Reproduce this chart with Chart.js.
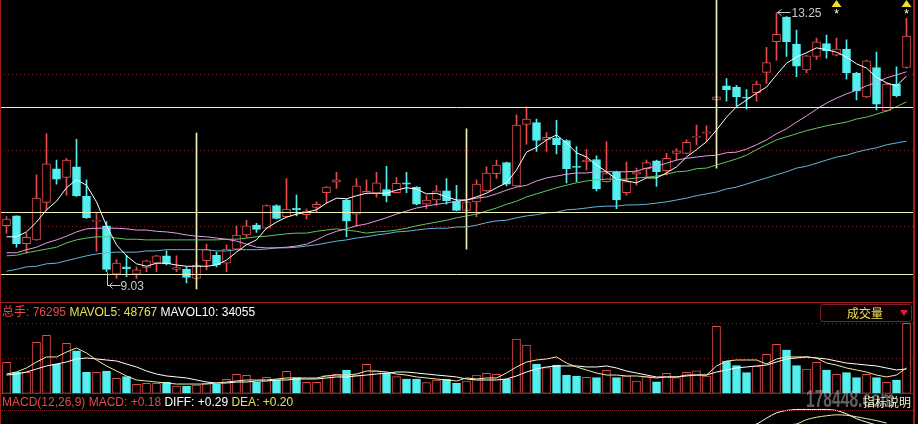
<!DOCTYPE html>
<html>
<head>
<meta charset="utf-8">
<script src="https://cdn.jsdelivr.net/npm/chart.js@4.4.1/dist/chart.umd.min.js"></script>
<style>
  html, body { margin: 0; padding: 0; background: #000; }
  body { width: 918px; height: 424px; position: relative; overflow: hidden;
         font-family: "Liberation Sans", Arial, "Noto Sans CJK SC", sans-serif; font-size: 12px; }
  canvas { position: absolute; left: 0; }
  .txt { position: absolute; white-space: pre; line-height: 14px; }
  .rule { position: absolute; background: #9c1c1c; }
  .dots { position: absolute; height: 0; border-top: 1px dotted #7a2424; }
  #volBtn { position: absolute; left: 820px; top: 304px; width: 90px; height: 16px;
            border: 1px solid #7c1c30; border-radius: 3px; background: #080000; }
  #volBtn span { position: absolute; left: 26px; top: 1px; color: #f0e050; line-height: 14px; font-family: "Noto Sans CJK SC", sans-serif; }
  #volBtn i { position: absolute; left: 79px; top: 5px; width: 0; height: 0;
              border-left: 4px solid transparent; border-right: 4px solid transparent; border-top: 6px solid #e0203c; }
  #mark { position: absolute; left: 806px; top: 387px; font: bold 24px "Liberation Sans", Arial, sans-serif;
          color: rgba(190,190,190,0.5); transform: scaleX(0.65); transform-origin: 0 0; line-height: 24px; }
  #note { position: absolute; left: 863px; top: 395px; color: #f0f0c8; font-family: "Noto Sans CJK SC", sans-serif; line-height: 14px; }
</style>
</head>
<body>
<canvas id="price" width="918" height="300" style="top:0"></canvas>
<canvas id="vol" width="918" height="92" style="top:302px"></canvas>
<canvas id="macd" width="918" height="30" style="top:394px"></canvas>

<div class="rule" style="left:0;top:0;width:1px;height:424px"></div>
<div class="rule" style="left:913px;top:0;width:2px;height:424px"></div>
<div class="rule" style="left:0;top:302px;width:915px;height:1px"></div>
<div class="rule" style="left:0;top:393px;width:915px;height:1px"></div>
<div class="dots" style="left:0;top:410px;width:913px"></div>

<div class="txt" style="left:2px;top:305px"><span style="color:#e64a4a">总手: 76295</span> <span style="color:#e6e050">MAVOL5: 48767</span> <span style="color:#ffffff">MAVOL10: 34055</span></div>
<div class="txt" style="left:2px;top:395px"><span style="color:#e64a4a">MACD(12,26,9) MACD: +0.18</span> <span style="color:#ffffff">DIFF: +0.29</span> <span style="color:#e6e050">DEA: +0.20</span></div>
<div id="volBtn"><span>成交量</span><i></i></div>
<div id="mark">178448.com</div>
<div id="note">指标说明</div>

<script>
// daily candles, oldest first
const opens = [9.78, 9.94, 9.49, 9.55, 10.16, 10.71, 10.57, 10.74, 10.26, 9.85,
  9.78, 8.99, 9.11, 8.99, 9.10, 9.17, 9.29, 9.07, 9.07, 8.92,
  9.21, 9.30, 9.17, 9.40, 9.63, 9.79, 9.74, 10.11, 9.93, 10.07,
  9.96, 10.08, 10.32, 10.49, 10.20, 9.97, 10.31, 10.31, 10.37, 10.32,
  10.48, 10.41, 10.13, 10.20, 10.35, 10.18, 10.03, 10.17, 10.35, 10.63,
  10.81, 10.43, 11.43, 11.46, 11.18, 11.21, 11.17, 10.75, 10.82, 10.86,
  10.50, 10.66, 10.32, 10.62, 10.71, 10.84, 10.68, 10.96, 10.96, 11.22,
  11.29, 11.83, 12.06, 12.04, 11.87, 11.95, 12.28, 12.78, 13.18, 12.74,
  12.32, 12.54, 12.75, 12.56, 12.66, 12.27, 11.88, 12.36, 11.65, 12.09,
  12.36];
const highs = [9.93, 9.94, 9.66, 10.61, 11.28, 10.85, 10.88, 11.19, 10.53, 9.98,
  9.85, 9.23, 9.30, 9.11, 9.22, 9.30, 9.37, 9.29, 9.11, 9.17,
  9.48, 9.35, 9.47, 9.78, 9.87, 9.82, 10.12, 10.12, 10.55, 10.28,
  10.05, 10.17, 10.42, 10.65, 10.21, 10.55, 10.53, 10.65, 10.75, 10.57,
  10.65, 10.42, 10.27, 10.44, 10.55, 10.44, 10.18, 10.53, 10.74, 10.85,
  10.82, 11.59, 11.72, 11.52, 11.30, 11.50, 11.18, 11.07, 11.02, 10.92,
  11.15, 10.67, 10.82, 10.72, 10.85, 10.85, 10.96, 11.04, 11.18, 11.42,
  11.41, 11.89, 12.18, 12.07, 12.00, 12.14, 12.69, 13.25, 13.19, 12.97,
  12.56, 12.84, 12.89, 12.84, 12.81, 12.28, 12.48, 12.61, 12.10, 12.37,
  13.16];
const lows = [9.66, 9.43, 9.33, 9.54, 10.04, 10.46, 10.28, 10.26, 9.90, 9.36,
  9.03, 8.92, 8.95, 8.92, 9.03, 9.03, 9.14, 9.03, 8.85, 8.91,
  9.06, 9.11, 9.03, 9.39, 9.59, 9.67, 9.73, 9.89, 9.92, 9.94,
  9.89, 10.01, 10.15, 10.39, 9.60, 9.77, 10.30, 10.25, 10.17, 10.31,
  10.32, 10.12, 10.06, 10.11, 10.13, 10.02, 10.02, 9.93, 10.34, 10.55,
  10.43, 10.42, 11.11, 10.99, 10.99, 10.95, 10.48, 10.50, 10.69, 10.35,
  10.49, 10.06, 10.28, 10.44, 10.58, 10.42, 10.61, 10.85, 10.95, 11.10,
  11.15, 11.82, 11.81, 11.73, 11.68, 11.81, 12.10, 12.48, 12.54, 12.21,
  12.27, 12.49, 12.51, 12.55, 12.17, 11.83, 11.87, 11.67, 11.64, 11.88,
  12.35];
const closes = [9.89, 9.49, 9.59, 10.23, 10.79, 10.54, 10.85, 10.27, 9.91, 9.87,
  9.07, 9.17, 9.08, 9.06, 9.21, 9.29, 9.16, 9.10, 8.94, 9.14,
  9.39, 9.14, 9.40, 9.63, 9.78, 9.72, 10.11, 9.90, 10.05, 10.04,
  10.02, 10.13, 10.41, 10.53, 9.86, 10.43, 10.34, 10.48, 10.27, 10.47,
  10.46, 10.13, 10.20, 10.35, 10.19, 10.03, 10.17, 10.46, 10.64, 10.77,
  10.46, 11.42, 11.52, 11.17, 11.22, 11.10, 10.71, 10.73, 10.85, 10.38,
  10.63, 10.20, 10.50, 10.66, 10.81, 10.66, 10.88, 11.00, 11.14, 11.24,
  11.31, 11.88, 12.00, 11.88, 11.86, 12.09, 12.44, 12.90, 12.78, 12.38,
  12.55, 12.78, 12.63, 12.66, 12.27, 11.98, 12.47, 11.76, 12.09, 11.90,
  12.87];

const ma5 = [9.60, 9.60, 9.68, 9.84, 10.04, 10.18, 10.40, 10.53, 10.44, 10.17,
  9.78, 9.47, 9.29, 9.16, 9.12, 9.17, 9.17, 9.14, 9.12, 9.12,
  9.12, 9.14, 9.22, 9.35, 9.47, 9.55, 9.74, 9.84, 9.92, 9.97,
  10.00, 10.04, 10.15, 10.23, 10.22, 10.27, 10.31, 10.31, 10.31, 10.36,
  10.40, 10.38, 10.30, 10.31, 10.25, 10.20, 10.20, 10.25, 10.31, 10.40,
  10.48, 10.69, 10.98, 11.06, 11.18, 11.26, 11.13, 10.97, 10.90, 10.77,
  10.66, 10.54, 10.51, 10.48, 10.56, 10.56, 10.64, 10.74, 10.90, 11.02,
  11.15, 11.34, 11.55, 11.72, 11.83, 11.94, 12.04, 12.24, 12.43, 12.53,
  12.60, 12.68, 12.65, 12.61, 12.53, 12.42, 12.35, 12.20, 12.11, 12.06,
  12.22];
const ma10 = [9.34, 9.34, 9.39, 9.43, 9.50, 9.55, 9.61, 9.68, 9.73, 9.74,
  9.74, 9.74, 9.73, 9.71, 9.71, 9.69, 9.68, 9.66, 9.63, 9.61,
  9.60, 9.58, 9.56, 9.53, 9.48, 9.43, 9.42, 9.42, 9.43, 9.45,
  9.48, 9.55, 9.63, 9.69, 9.73, 9.78, 9.81, 9.86, 9.91, 9.97,
  10.02, 10.07, 10.10, 10.13, 10.15, 10.18, 10.20, 10.23, 10.25, 10.30,
  10.36, 10.41, 10.44, 10.51, 10.56, 10.59, 10.62, 10.64, 10.64, 10.66,
  10.66, 10.66, 10.66, 10.67, 10.72, 10.75, 10.80, 10.85, 10.88, 10.90,
  10.92, 10.93, 10.97, 10.98, 11.03, 11.10, 11.18, 11.28, 11.36, 11.47,
  11.57, 11.68, 11.78, 11.86, 11.93, 11.99, 12.06, 12.12, 12.19, 12.24,
  12.29];
const ma20 = [9.29, 9.30, 9.34, 9.37, 9.40, 9.43, 9.50, 9.55, 9.58, 9.60,
  9.60, 9.58, 9.56, 9.56, 9.55, 9.55, 9.55, 9.55, 9.55, 9.55,
  9.55, 9.55, 9.56, 9.56, 9.58, 9.60, 9.61, 9.63, 9.65, 9.66,
  9.66, 9.69, 9.71, 9.73, 9.71, 9.69, 9.66, 9.68, 9.69, 9.71,
  9.74, 9.78, 9.81, 9.84, 9.87, 9.91, 9.94, 9.97, 10.02, 10.07,
  10.13, 10.18, 10.25, 10.30, 10.35, 10.40, 10.44, 10.48, 10.51, 10.53,
  10.54, 10.54, 10.54, 10.56, 10.57, 10.59, 10.62, 10.66, 10.67, 10.71,
  10.72, 10.77, 10.82, 10.87, 10.93, 11.02, 11.10, 11.18, 11.23, 11.28,
  11.33, 11.37, 11.41, 11.44, 11.47, 11.52, 11.55, 11.60, 11.65, 11.72,
  11.80];
const ma60 = [9.04, 9.07, 9.11, 9.12, 9.16, 9.17, 9.21, 9.25, 9.29, 9.32,
  9.34, 9.35, 9.35, 9.35, 9.37, 9.37, 9.39, 9.39, 9.39, 9.39,
  9.39, 9.37, 9.37, 9.39, 9.39, 9.39, 9.40, 9.42, 9.42, 9.43,
  9.45, 9.47, 9.50, 9.53, 9.55, 9.58, 9.60, 9.63, 9.65, 9.68,
  9.69, 9.71, 9.73, 9.74, 9.74, 9.76, 9.76, 9.79, 9.83, 9.86,
  9.87, 9.91, 9.94, 9.96, 9.99, 10.00, 10.04, 10.05, 10.07, 10.09,
  10.10, 10.10, 10.12, 10.12, 10.13, 10.15, 10.17, 10.20, 10.23, 10.27,
  10.30, 10.33, 10.38, 10.41, 10.46, 10.51, 10.56, 10.61, 10.66, 10.72,
  10.75, 10.80, 10.85, 10.90, 10.93, 10.98, 11.02, 11.05, 11.10, 11.13,
  11.16];

const volumes = [33800, 22900, 22900, 55600, 63200, 31900, 54500, 46400, 22900, 22900,
  24300, 16400, 18100, 9800, 10900, 10900, 12000, 8000, 8000, 9000,
  10900, 10100, 15300, 20700, 19600, 12000, 17400, 14500, 24000, 17000,
  12000, 12000, 19200, 20700, 25400, 19900, 31600, 24300, 22100, 18100,
  15600, 15600, 11600, 14500, 15300, 10900, 13400, 19900, 21800, 20700,
  15600, 59200, 52600, 31900, 27900, 30800, 19900, 18900, 17400, 17000,
  25100, 17000, 18900, 13400, 18100, 12600, 21800, 17000, 22900, 24600,
  18900, 73000, 35200, 30100, 22500, 29800, 42500, 53400, 47200, 30100,
  26500, 33800, 25400, 20700, 22500, 17000, 20700, 17000, 12000, 14500,
  76295];
const mavol5 = [21000, 23200, 27600, 34100, 39600, 39600, 45000, 49400, 43900, 36300,
  29800, 24300, 18900, 14500, 13400, 12300, 11200, 10100, 10100, 10100,
  10100, 11200, 12300, 13400, 14500, 14500, 14500, 15600, 16700, 16700,
  16700, 16700, 18900, 19900, 19900, 21000, 24300, 24300, 23200, 21000,
  19900, 17800, 16700, 15600, 14500, 13400, 16700, 15600, 16700, 16700,
  22100, 28700, 34100, 36300, 37400, 39600, 33000, 28700, 25400, 22100,
  19900, 19900, 18900, 18900, 17800, 16700, 17800, 17800, 19900, 19900,
  19900, 29800, 35200, 36300, 36300, 36300, 31900, 37400, 39600, 39600,
  39600, 38500, 33000, 30800, 27600, 25400, 23200, 19900, 17800, 19900,
  27600];
const mavol10 = [19900, 21000, 23200, 26500, 29800, 31900, 34100, 37400, 38500, 37400,
  36300, 35200, 31900, 28700, 24300, 21000, 18900, 17800, 16700, 14500,
  12300, 11200, 11200, 12300, 12300, 13400, 13400, 14500, 14500, 15600,
  15600, 15600, 16700, 17800, 17800, 18900, 19900, 21000, 22100, 23200,
  23200, 22100, 21000, 19900, 18900, 17800, 15600, 14500, 14500, 14500,
  15600, 18900, 23200, 26500, 28700, 29800, 29800, 29800, 28700, 28700,
  29800, 27600, 24300, 22100, 19900, 17800, 17800, 17800, 18900, 19900,
  19900, 23200, 25400, 27600, 28700, 29800, 30800, 34100, 37400, 38500,
  39600, 38500, 37400, 35200, 33000, 31900, 30800, 29800, 27600, 25400,
  26500];

// MACD lines, only the part that shows above the bottom edge
const macdIdx = [74, 75, 76, 77, 78, 79, 80, 81, 82, 83, 84, 85, 86, 87, 88];
const diffVals = [-0.14, -0.10, 0.02, 0.13, 0.18, 0.20, 0.20, 0.20, 0.20, 0.18, 0.11, 0.01, -0.06, -0.12, -0.16];
const deaVals = [null, null, null, null, -0.12, -0.10, -0.01, 0.04, 0.07, 0.09, 0.08, 0.05, 0.01, -0.03, -0.08];

// drawn lines on the price panel
const levelLines = [11.72, 10.00, 9.00];
const gridPrice = [12.25, 11.01, 9.77];
const gridVol = [76295, 38150];
const vLineIdx = [19, 46, 71];
const vLineLow = [8.75, 9.40, 10.72];
const vLineHigh = [11.29, 11.36, 13.46];
const highMarkIdx = 77;
const lowMarkIdx = 10;
const starIdx = [83, 90];

const UP = "#e64c4c";
const DOWN = "#54f0f0";
const labels = opens.map((_, i) => i);
const isUp = opens.map((o, i) => closes[i] >= o);

const common = {
  animation: false,
  responsive: false,
  devicePixelRatio: 1,
  events: [],
  plugins: { legend: { display: false }, tooltip: { enabled: false } },
};

function hline(ctx, y, color, dash) {
  ctx.save();
  ctx.strokeStyle = color;
  ctx.lineWidth = 1;
  ctx.setLineDash(dash || []);
  const py = Math.round(y) + 0.5;
  ctx.beginPath();
  ctx.moveTo(0, py);
  ctx.lineTo(913, py);
  ctx.stroke();
  ctx.restore();
}

const priceDecor = {
  id: "priceDecor",
  beforeDatasetsDraw(chart) {
    const y = chart.scales.y;
    gridPrice.forEach((p) => hline(chart.ctx, y.getPixelForValue(p), "#7a2424", [1, 3]));
  },
  afterDatasetsDraw(chart) {
    const { ctx } = chart;
    const x = chart.scales.x;
    const y = chart.scales.y;
    levelLines.forEach((p) => hline(ctx, y.getPixelForValue(p), "#f0f0b4"));

    ctx.save();
    ctx.strokeStyle = "#c8c8c8";
    ctx.fillStyle = "#c8c8c8";
    ctx.lineWidth = 1;
    ctx.font = '12px "Liberation Sans", Arial, sans-serif';
    ctx.textBaseline = "middle";

    // high mark
    let hx = Math.round(x.getPixelForValue(highMarkIdx)) + 0.5;
    let hy = Math.round(y.getPixelForValue(highs[highMarkIdx])) - 0.5;
    ctx.beginPath();
    ctx.moveTo(hx, hy);
    ctx.lineTo(hx + 13, hy);
    ctx.moveTo(hx + 4, hy - 3);
    ctx.lineTo(hx, hy);
    ctx.lineTo(hx + 4, hy + 3);
    ctx.stroke();
    ctx.fillText(highs[highMarkIdx].toFixed(2), hx + 14, hy + 1);

    // low mark
    let lx = Math.round(x.getPixelForValue(lowMarkIdx)) + 0.5;
    let ly = Math.round(y.getPixelForValue(lows[lowMarkIdx])) + 0.5;
    ctx.beginPath();
    ctx.moveTo(lx, ly);
    ctx.lineTo(lx, ly + 13);
    ctx.lineTo(lx + 13, ly + 13);
    ctx.moveTo(lx + 5, ly + 10);
    ctx.lineTo(lx + 2, ly + 13);
    ctx.lineTo(lx + 5, ly + 16);
    ctx.stroke();
    ctx.fillText(lows[lowMarkIdx].toFixed(2), lx + 13, ly + 14);

    // signal marks at the top
    starIdx.forEach((i) => {
      const sx = x.getPixelForValue(i);
      ctx.fillStyle = "#f0e020";
      ctx.beginPath();
      ctx.moveTo(sx, 0);
      ctx.lineTo(sx + 5, 7);
      ctx.lineTo(sx - 5, 7);
      ctx.closePath();
      ctx.fill();
      ctx.fillStyle = "#ffffff";
      ctx.textAlign = "center";
      ctx.fillText("*", sx, 15);
    });
    ctx.restore();
  },
};

function maLine(data, color) {
  return { type: "line", data, borderColor: color, borderWidth: 1, pointRadius: 0, tension: 0, order: 0 };
}

new Chart(document.querySelector("#price"), {
  type: "bar",
  data: {
    labels,
    datasets: [
      maLine(ma5, "#ffffff"),
      maLine(ma10, "#e69ae6"),
      maLine(ma20, "#5ec85e"),
      maLine(ma60, "#66b4dc"),
      {
        data: labels.map((i) => {
          const k = vLineIdx.indexOf(i);
          return k >= 0 ? [vLineLow[k], vLineHigh[k]] : null;
        }),
        backgroundColor: "#f0f0b4",
        barThickness: 1,
        grouped: false,
        order: 1,
      },
      {
        data: opens.map((o, i) => [o, closes[i]]),
        backgroundColor: isUp.map((u) => (u ? "#000000" : DOWN)),
        borderColor: isUp.map((u) => (u ? UP : DOWN)),
        borderWidth: 1,
        borderSkipped: false,
        barThickness: 8,
        minBarLength: 1,
        grouped: false,
        order: 2,
      },
      {
        data: lows.map((l, i) => [l, highs[i]]),
        backgroundColor: isUp.map((u) => (u ? UP : DOWN)),
        barThickness: 1,
        grouped: false,
        order: 3,
      },
    ],
  },
  options: {
    ...common,
    layout: { padding: { left: 1.5, right: 6.5, top: 0, bottom: 0 } },
    scales: {
      x: { type: "category", offset: true, display: false },
      y: { display: false, min: 8.57, max: 13.46 },
    },
  },
  plugins: [priceDecor],
});

const volDecor = {
  id: "volDecor",
  beforeDatasetsDraw(chart) {
    const y = chart.scales.y;
    gridVol.forEach((v) => hline(chart.ctx, y.getPixelForValue(v), "#7a2424", [1, 3]));
  },
};

new Chart(document.querySelector("#vol"), {
  type: "bar",
  data: {
    labels,
    datasets: [
      maLine(mavol5, "#f0eca0"),
      maLine(mavol10, "#ffffff"),
      {
        data: volumes,
        backgroundColor: isUp.map((u) => (u ? "#000000" : DOWN)),
        borderColor: isUp.map((u) => (u ? UP : DOWN)),
        borderWidth: 1,
        borderSkipped: false,
        barThickness: 8,
        order: 1,
      },
    ],
  },
  options: {
    ...common,
    layout: { padding: { left: 1.5, right: 6.5, top: 0, bottom: 0.7 } },
    scales: {
      x: { type: "category", offset: true, display: false },
      y: { display: false, min: 0, max: 99500 },
    },
  },
  plugins: [volDecor],
});

function sparse(vals) {
  return labels.map((i) => {
    const k = macdIdx.indexOf(i);
    return k >= 0 ? vals[k] : null;
  });
}

new Chart(document.querySelector("#macd"), {
  type: "line",
  data: {
    labels,
    datasets: [
      { data: sparse(diffVals), borderColor: "#ffffff", borderWidth: 1, pointRadius: 0, tension: 0.3 },
      { data: sparse(deaVals), borderColor: "#f0eca0", borderWidth: 1, pointRadius: 0, tension: 0.3 },
    ],
  },
  options: {
    ...common,
    layout: { padding: { left: 1.5, right: 6.5, top: 0, bottom: 0 } },
    scales: {
      x: { type: "category", offset: true, display: false },
      y: { display: false, min: -0.1, max: 0.52 },
    },
  },
});
</script>
</body>
</html>
